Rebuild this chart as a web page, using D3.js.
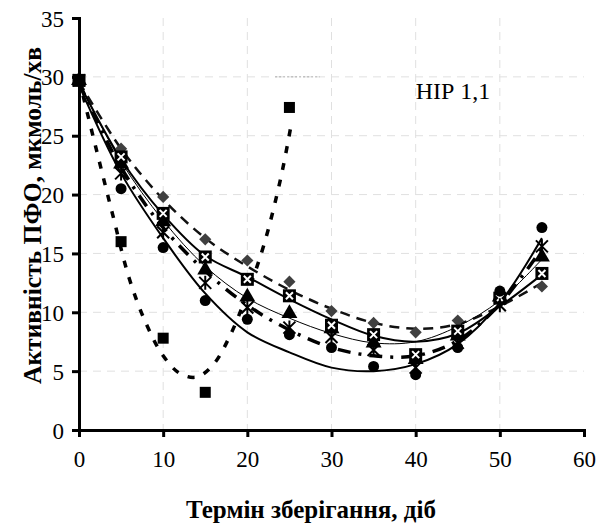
<!DOCTYPE html>
<html>
<head>
<meta charset="utf-8">
<script src="https://cdn.jsdelivr.net/npm/d3@7"></script>
<style>
  body { margin: 0; background: #fff; }
  text { font-family: "Times New Roman", "Liberation Serif", serif; }
</style>
</head>
<body>
<div class="container"></div>
<script>
// measured days
const days = [0, 5, 10, 15, 20, 25, 30, 35, 40, 45, 50, 55];
const squareDays = [0, 5, 10, 15, 25];

// marker values
const diamondVals = [29.7, 23.9, 19.8, 16.2, 14.4, 12.6, 10.1, 9.1, 8.3, 9.3, 11.0, 12.2];
const squareVals = [29.7, 16.0, 7.8, 3.2, 27.4];
const triangleVals = [29.7, 22.6, 17.7, 13.6, 11.3, 9.9, 8.6, 7.4, 6.0, 8.0, 11.3, 14.7];
const boxVals = [29.7, 23.2, 18.4, 14.7, 12.8, 11.4, 8.9, 8.1, 6.4, 8.4, 11.2, 13.3];
const starVals = [29.7, 21.8, 16.8, 12.5, 10.4, 8.7, 7.9, 6.8, 5.3, 7.4, 10.6, 15.6];
const circleVals = [29.7, 20.5, 15.5, 11.0, 9.4, 8.1, 7.0, 5.4, 4.7, 7.0, 11.8, 17.2];

// trend lines
const diamondTrend = [29.6, 23.9, 19.6, 16.3, 13.9, 11.9, 10.3, 9.1, 8.6, 9.0, 10.5, 12.5];
const boxTrend = [29.5, 23.0, 18.3, 14.8, 13.0, 11.1, 9.4, 8.0, 7.5, 8.2, 10.5, 13.2];
const triangleTrend = [29.5, 22.8, 17.8, 13.9, 11.2, 9.5, 8.2, 7.4, 7.5, 8.8, 11.0, 14.5];
const starTrend = [29.5, 22.3, 17.2, 13.5, 10.6, 8.5, 7.0, 6.3, 6.3, 7.6, 10.7, 15.4];
const circleTrend = [29.3, 21.8, 16.3, 11.6, 8.3, 6.6, 5.3, 5.0, 5.6, 7.3, 10.8, 16.3];
const squareTrendDays = [0, 2, 4, 6, 8, 10, 12, 14, 16, 18, 20, 22, 24, 25.3];
const squareTrend = [29.8, 24.0, 18.3, 12.8, 9.0, 6.3, 4.8, 4.5, 5.6, 8.1, 11.6, 15.8, 21.5, 26.3];

const xTicks = [0, 10, 20, 30, 40, 50, 60];
const yTicks = [0, 5, 10, 15, 20, 25, 30, 35];

const margin = { top: 18, right: 19, bottom: 96, left: 79 },
  width = 603 - margin.left - margin.right,
  height = 526 - margin.top - margin.bottom;

const svg = d3
  .select(".container")
  .append("svg")
  .attr("width", 603)
  .attr("height", 526);

const g = svg.append("g").attr("transform", `translate(${margin.left}, ${margin.top})`);

const xScale = d3.scaleLinear().domain([0, 60]).range([0, width]);
const yScale = d3.scaleLinear().domain([0, 35]).range([height, 0]);

// grid
g.selectAll(".vgrid")
  .data(xTicks.slice(1, -1))
  .join("line")
  .attr("x1", (d) => xScale(d))
  .attr("x2", (d) => xScale(d))
  .attr("y1", 0)
  .attr("y2", height)
  .attr("stroke", "#e0e0e0")
  .attr("stroke-dasharray", "8,6");

g.selectAll(".hgrid")
  .data(yTicks.slice(1, -1))
  .join("line")
  .attr("x1", 0)
  .attr("x2", width)
  .attr("y1", (d) => yScale(d))
  .attr("y2", (d) => yScale(d))
  .attr("stroke", "#e0e0e0")
  .attr("stroke-dasharray", "8,6");

// short dotted stub near the top
g.append("line")
  .attr("x1", xScale(23.3))
  .attr("x2", xScale(28.6))
  .attr("y1", yScale(30))
  .attr("y2", yScale(30))
  .attr("stroke", "#aaa")
  .attr("stroke-dasharray", "2,2");

// axes
const xAxis = g
  .append("g")
  .attr("transform", `translate(0, ${height})`)
  .call(d3.axisBottom(xScale).tickValues(xTicks).tickSize(7).tickPadding(14));
const yAxis = g
  .append("g")
  .call(d3.axisLeft(yScale).tickValues(yTicks).tickSize(7).tickPadding(8));

[xAxis, yAxis].forEach((a) => {
  a.select(".domain").attr("stroke", "#000").attr("stroke-width", 3);
  a.selectAll(".tick line").attr("stroke", "#000").attr("stroke-width", 3);
  a.selectAll(".tick text")
    .style("font-family", '"Times New Roman", "Liberation Serif", serif')
    .style("font-size", "23px")
    .attr("fill", "#000");
});
yAxis.selectAll(".tick text").attr("dy", "0.35em");

const line = (xs) =>
  d3
    .line()
    .x((d, i) => xScale(xs[i]))
    .y((d) => yScale(d))
    .curve(d3.curveCatmullRom);

// trend lines
const trends = [
  { xs: days, ys: diamondTrend, w: 2.5, dash: "10,7", color: "#111" },
  { xs: squareTrendDays, ys: squareTrend, w: 3.5, dash: "7,10", color: "#000" },
  { xs: days, ys: triangleTrend, w: 1, dash: null, color: "#000" },
  { xs: days, ys: boxTrend, w: 2, dash: null, color: "#000" },
  { xs: days, ys: starTrend, w: 3.5, dash: "13,8,3,8", color: "#000" },
  { xs: days, ys: circleTrend, w: 2, dash: null, color: "#000" },
];

trends.forEach((t) => {
  g.append("path")
    .datum(t.ys)
    .attr("d", line(t.xs))
    .attr("fill", "none")
    .attr("stroke", t.color)
    .attr("stroke-width", t.w)
    .attr("stroke-dasharray", t.dash);
});

// markers
const pts = (xs, ys) => ys.map((v, i) => ({ x: xs[i], y: v }));

g.selectAll(".diamond")
  .data(pts(days, diamondVals))
  .join("path")
  .attr("d", d3.symbol(d3.symbolDiamond2, 95))
  .attr("transform", (d) => `translate(${xScale(d.x)},${yScale(d.y)})`)
  .attr("fill", "#404040");

g.selectAll(".square")
  .data(pts(squareDays, squareVals))
  .join("rect")
  .attr("x", (d) => xScale(d.x) - 5.5)
  .attr("y", (d) => yScale(d.y) - 5.5)
  .attr("width", 11)
  .attr("height", 11)
  .attr("fill", "#000");

g.selectAll(".triangle")
  .data(pts(days, triangleVals))
  .join("path")
  .attr("d", d3.symbol(d3.symbolTriangle, 110))
  .attr("transform", (d) => `translate(${xScale(d.x)},${yScale(d.y)})`)
  .attr("fill", "#000");

const box = g
  .selectAll(".box")
  .data(pts(days, boxVals))
  .join("g")
  .attr("transform", (d) => `translate(${xScale(d.x)},${yScale(d.y)})`);
box.append("rect").attr("x", -6.5).attr("y", -6.5).attr("width", 13).attr("height", 13).attr("fill", "#000");
box.append("path").attr("d", "M-3.5,-3.5L3.5,3.5M-3.5,3.5L3.5,-3.5").attr("stroke", "#fff").attr("stroke-width", 2);

g.selectAll(".star")
  .data(pts(days, starVals))
  .join("path")
  .attr("d", "M-6,-6L6,6M-6,6L6,-6M0,-7L0,7")
  .attr("transform", (d) => `translate(${xScale(d.x)},${yScale(d.y)})`)
  .attr("stroke", "#000")
  .attr("stroke-width", 2);

g.selectAll(".circle")
  .data(pts(days, circleVals))
  .join("circle")
  .attr("cx", (d) => xScale(d.x))
  .attr("cy", (d) => yScale(d.y))
  .attr("r", 5.5)
  .attr("fill", "#000");

// labels
g.append("text")
  .attr("x", xScale(40))
  .attr("y", yScale(28.1))
  .style("font-size", "24px")
  .text("НІР 1,1");

svg.append("text")
  .attr("x", 311)
  .attr("y", 518)
  .attr("text-anchor", "middle")
  .style("font-size", "25px")
  .style("font-weight", "bold")
  .text("Термін зберігання, діб");

svg.append("text")
  .attr("transform", "translate(41, 384) rotate(-90)")
  .attr("text-anchor", "start")
  .style("font-weight", "bold")
  .style("font-size", "25.5px")
  .text("Активність ПФО, мкмоль/хв");
</script>
</body>
</html>
